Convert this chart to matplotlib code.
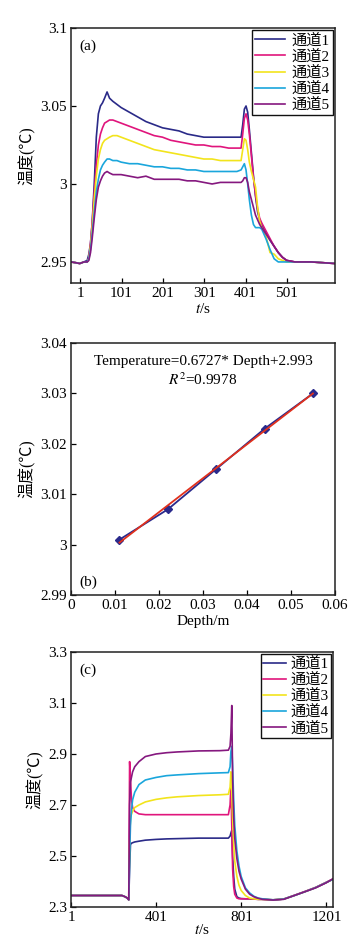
import matplotlib
matplotlib.use("Agg")
import matplotlib.pyplot as plt

plt.rcParams['font.family'] = ['Liberation Serif', 'Noto Sans CJK SC', 'DejaVu Sans']
plt.rcParams['mathtext.fontset'] = 'stix'
plt.rcParams['font.size'] = 11

# ---------------- data: panel (a) ----------------
t_a = [-20, 0, 10, 18, 22, 26, 30, 35, 40, 45, 50, 55, 60, 66, 72, 80, 90, 100,
       120, 140, 160, 180, 200, 220, 240, 260, 280, 300, 320, 340, 360, 380, 390,
       394, 398, 402, 406, 410, 415, 420, 425, 430, 435, 440, 450, 460, 470, 480,
       490, 500, 520, 560, 617]
ch1_a = [2.950, 2.949, 2.950, 2.951, 2.955, 2.962, 2.975, 3.000, 3.030, 3.045, 3.050, 3.052, 3.055, 3.059, 3.055, 3.053, 3.051, 3.049,
         3.046, 3.043, 3.040, 3.038, 3.036, 3.035, 3.034, 3.032, 3.031, 3.030, 3.030, 3.030, 3.030, 3.030, 3.030,
         3.038, 3.048, 3.050, 3.046, 3.035, 3.020, 3.005, 2.992, 2.982, 2.977, 2.974, 2.969, 2.964, 2.960, 2.956,
         2.953, 2.951, 2.950, 2.950, 2.949]
ch2_a = [2.950, 2.949, 2.950, 2.950, 2.953, 2.962, 2.975, 2.995, 3.012, 3.025, 3.032, 3.036, 3.039, 3.040, 3.041, 3.041, 3.040, 3.039,
         3.037, 3.035, 3.033, 3.031, 3.030, 3.028, 3.027, 3.026, 3.025, 3.025, 3.024, 3.024, 3.023, 3.023, 3.023,
         3.032, 3.042, 3.045, 3.041, 3.032, 3.018, 3.004, 2.993, 2.984, 2.978, 2.975, 2.970, 2.965, 2.960, 2.956,
         2.953, 2.951, 2.950, 2.950, 2.949]
ch3_a = [2.950, 2.949, 2.950, 2.950, 2.952, 2.960, 2.972, 2.990, 3.005, 3.016, 3.022, 3.026, 3.028, 3.029, 3.030, 3.031, 3.031, 3.030,
         3.028, 3.026, 3.024, 3.022, 3.021, 3.020, 3.019, 3.018, 3.017, 3.016, 3.016, 3.015, 3.015, 3.015, 3.015,
         3.022, 3.029, 3.028, 3.022, 3.014, 3.008, 3.003, 2.998, 2.985, 2.976, 2.972, 2.967, 2.956, 2.955, 2.952,
         2.951, 2.950, 2.950, 2.950, 2.949]
ch4_a = [2.950, 2.949, 2.950, 2.950, 2.952, 2.958, 2.968, 2.982, 2.995, 3.003, 3.009, 3.012, 3.014, 3.016, 3.016, 3.015, 3.015, 3.014,
         3.013, 3.013, 3.012, 3.011, 3.011, 3.010, 3.010, 3.009, 3.009, 3.008, 3.008, 3.008, 3.008, 3.008, 3.009,
         3.011, 3.013, 3.009, 3.000, 2.990, 2.980, 2.974, 2.972, 2.972, 2.972, 2.971, 2.965, 2.958, 2.952, 2.950,
         2.950, 2.950, 2.950, 2.950, 2.949]
ch5_a = [2.950, 2.949, 2.950, 2.950, 2.951, 2.956, 2.965, 2.978, 2.990, 2.998, 3.002, 3.005, 3.007, 3.008, 3.007, 3.006, 3.006, 3.006,
         3.005, 3.004, 3.005, 3.003, 3.003, 3.003, 3.003, 3.002, 3.002, 3.001, 3.000, 3.001, 3.001, 3.001, 3.001,
         3.002, 3.004, 3.004, 3.001, 2.995, 2.990, 2.985, 2.980, 2.977, 2.974, 2.972, 2.968, 2.964, 2.960, 2.956,
         2.953, 2.951, 2.950, 2.950, 2.949]

# ---------------- data: panel (b) ----------------
depth = [0.011, 0.022, 0.033, 0.044, 0.055]
temp_b = [3.001, 3.007, 3.015, 3.023, 3.030]
fit_x = [0.011, 0.055]
fit_y = [3.0004, 3.0300]
eq_text = 'Temperature=0.6727* Depth+2.993'
r2_text = r'$R^2$=0.9978'

# ---------------- data: panel (c) ----------------
t_c = [1, 100, 200, 240, 255, 265, 272, 276, 280, 285, 290, 300, 320, 350, 400, 450, 500,
       600, 700, 740, 748, 752, 756, 760, 765, 770, 780, 790, 800, 820, 840, 860, 880,
       900, 950, 1000, 1050, 1100, 1150, 1200, 1230]
ch1_c = [2.345, 2.345, 2.345, 2.345, 2.340, 2.335, 2.328, 2.450, 2.545, 2.550, 2.552, 2.555, 2.558, 2.562, 2.565, 2.567, 2.568,
         2.570, 2.570, 2.570, 2.578, 2.590, 2.600, 2.500, 2.420, 2.370, 2.340, 2.335, 2.333, 2.332, 2.332, 2.331, 2.330,
         2.330, 2.328, 2.331, 2.345, 2.360, 2.376, 2.396, 2.408]
ch2_c = [2.345, 2.345, 2.345, 2.345, 2.340, 2.335, 2.328, 2.870, 2.800, 2.720, 2.690, 2.675, 2.665, 2.662, 2.662, 2.662, 2.662,
         2.662, 2.662, 2.662, 2.700, 2.770, 2.620, 2.450, 2.380, 2.350, 2.335, 2.332, 2.332, 2.332, 2.332, 2.331, 2.330,
         2.330, 2.328, 2.331, 2.346, 2.361, 2.377, 2.397, 2.409]
ch3_c = [2.345, 2.345, 2.345, 2.345, 2.340, 2.335, 2.328, 2.550, 2.650, 2.665, 2.675, 2.690, 2.700, 2.712, 2.722, 2.728, 2.732,
         2.737, 2.740, 2.742, 2.770, 2.830, 2.750, 2.650, 2.550, 2.480, 2.420, 2.385, 2.365, 2.345, 2.335, 2.332, 2.330,
         2.330, 2.328, 2.331, 2.345, 2.360, 2.376, 2.396, 2.408]
ch4_c = [2.345, 2.345, 2.345, 2.345, 2.340, 2.335, 2.328, 2.500, 2.620, 2.680, 2.720, 2.750, 2.780, 2.798, 2.808, 2.815, 2.818,
         2.823, 2.826, 2.827, 2.850, 2.910, 2.930, 2.850, 2.720, 2.620, 2.520, 2.460, 2.420, 2.375, 2.355, 2.342, 2.335,
         2.332, 2.328, 2.331, 2.345, 2.360, 2.376, 2.396, 2.408]
ch5_c = [2.345, 2.345, 2.345, 2.345, 2.340, 2.335, 2.328, 2.700, 2.790, 2.810, 2.830, 2.850, 2.870, 2.890, 2.900, 2.905, 2.908,
         2.912, 2.913, 2.915, 2.930, 2.980, 3.090, 2.800, 2.650, 2.570, 2.490, 2.440, 2.410, 2.370, 2.350, 2.340, 2.334,
         2.330, 2.327, 2.330, 2.345, 2.360, 2.375, 2.395, 2.410]

labels = ['通道1', '通道2', '通道3', '通道4', '通道5']
colors = ['#2a2a88', '#e0157c', '#f2e41c', '#1aa6dc', '#85187f']

ylab = '温度(℃)'

fig = plt.figure(figsize=(3.59, 9.43), dpi=100)

def style(ax):
    ax.tick_params(direction='in', length=3.5, width=0.9, labelsize=11, pad=3)
    for s in ax.spines.values():
        s.set_linewidth(1.1)
        s.set_color('#222222')

# ---- (a)
axa = fig.add_axes([0.198, 0.6999, 0.735, 0.2704])
for y, c, l in zip([ch1_a, ch2_a, ch3_a, ch4_a, ch5_a], colors, labels):
    axa.plot(t_a, y, color=c, lw=1.2, label=l)
axa.set_xlim(-21, 617)
axa.set_ylim(2.9365, 3.1)
axa.set_xticks([1, 101, 201, 301, 401, 501])
axa.set_yticks([2.95, 3.0, 3.05, 3.1])
axa.set_yticklabels(['2.95', '3', '3.05', '3.1'])
style(axa)
axa.set_xlabel(r'$t$/s', fontsize=11, labelpad=1)
axa.set_ylabel(ylab, fontsize=11.5, labelpad=3)
axa.text(0.03, 0.955, '(a)', transform=axa.transAxes, va='top', ha='left', fontsize=11)
lg = axa.legend(loc='upper right', fontsize=11, frameon=True, fancybox=False,
                edgecolor='#111111', framealpha=1, handlelength=2.0, labelspacing=0.12,
                borderpad=0.2, handletextpad=0.4, borderaxespad=0.15)
lg.get_frame().set_linewidth(1.0)

# ---- (b)
axb = fig.add_axes([0.198, 0.3690, 0.735, 0.2672])
axb.plot(depth, temp_b, color='#2a2a8c', lw=1.3, marker='D', ms=4, mfc='#2a2a8c', mec='#2a2a8c')
axb.plot(fit_x, fit_y, color='#e0301c', lw=1.3)
axb.set_xlim(0, 0.06)
axb.set_ylim(2.99, 3.04)
axb.set_xticks([0, 0.01, 0.02, 0.03, 0.04, 0.05, 0.06])
axb.set_xticklabels(['0', '0.01', '0.02', '0.03', '0.04', '0.05', '0.06'])
axb.set_yticks([2.99, 3.0, 3.01, 3.02, 3.03, 3.04])
axb.set_yticklabels(['2.99', '3', '3.01', '3.02', '3.03', '3.04'])
style(axb)
axb.set_xlabel('Depth/m', fontsize=11, labelpad=2)
axb.set_ylabel(ylab, fontsize=11.5, labelpad=3)
axb.text(0.5, 0.925, eq_text, transform=axb.transAxes, ha='center', va='center', fontsize=11)
axb.text(0.5, 0.855, r2_text, transform=axb.transAxes, ha='center', va='center', fontsize=11)
axb.text(0.03, 0.025, '(b)', transform=axb.transAxes, ha='left', va='bottom', fontsize=11)

# ---- (c)
axc = fig.add_axes([0.198, 0.0382, 0.7298, 0.2704])
for y, c, l in zip([ch1_c, ch2_c, ch3_c, ch4_c, ch5_c], colors, labels):
    axc.plot(t_c, y, color=c, lw=1.2, label=l)
axc.set_xlim(1, 1232)
axc.set_ylim(2.3, 3.3)
axc.set_xticks([1, 401, 801, 1201])
axc.set_yticks([2.3, 2.5, 2.7, 2.9, 3.1, 3.3])
style(axc)
axc.set_xlabel(r'$t$/s', fontsize=11, labelpad=-1)
axc.set_ylabel(ylab, fontsize=11.5, labelpad=3)
axc.text(0.03, 0.955, '(c)', transform=axc.transAxes, va='top', ha='left', fontsize=11)
lg = axc.legend(loc='upper right', fontsize=11, frameon=True, fancybox=False,
                edgecolor='#111111', framealpha=1, handlelength=1.5, labelspacing=0.12,
                borderpad=0.15, handletextpad=0.3, borderaxespad=0.15)
lg.get_frame().set_linewidth(1.0)

fig.savefig('out.png', dpi=100)
